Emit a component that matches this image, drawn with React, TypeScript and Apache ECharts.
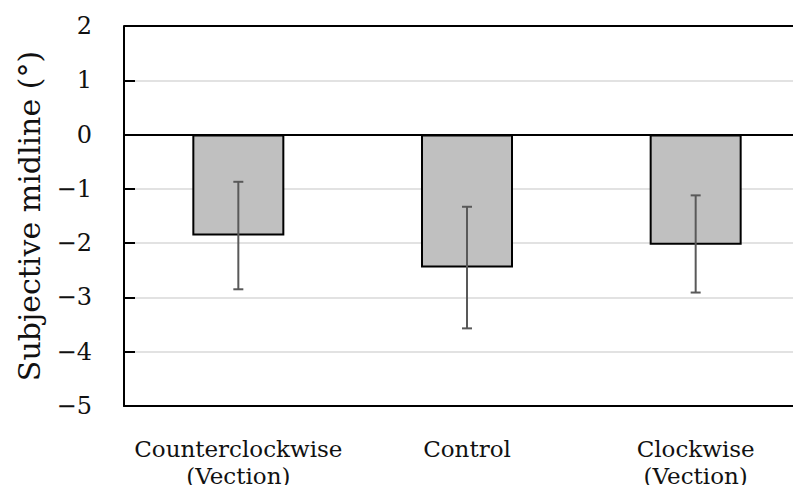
import React, { useEffect, useRef } from "react";
import * as echarts from "echarts";

const categories = ["Counterclockwise\n(Vection)", "Control", "Clockwise\n(Vection)"];
const means = [-1.86, -2.45, -2.03];
const errLow = [-2.85, -3.57, -2.91];
const errHigh = [-0.87, -1.33, -1.12];
const yTicks = [-5, -4, -3, -2, -1, 0, 1, 2];
const yTitle = "Subjective midline (°)";

const FONT = "'DejaVu Serif', 'Liberation Serif', serif";

export default function App() {
  const ref = useRef<HTMLDivElement>(null);
  useEffect(() => {
    if (!ref.current) return;
    const chart = echarts.init(ref.current, null, { renderer: "svg" });
    const errData = categories.map((_, i) => [i, errLow[i], errHigh[i]]);
    chart.setOption({
      animation: false,
      backgroundColor: "#ffffff",
      grid: {
        left: 124,
        top: 26,
        width: 686,
        height: 380,
      },
      xAxis: {
        type: "category",
        data: categories,
        axisLine: { show: true, onZero: false, lineStyle: { color: "#000", width: 2 } },
        axisTick: { show: false },
        axisLabel: {
          color: "#111",
          fontFamily: FONT,
          fontSize: 23,
          lineHeight: 27,
          margin: 29,
          interval: 0,
        },
        splitLine: { show: false },
      },
      yAxis: {
        type: "value",
        min: yTicks[0],
        max: yTicks[yTicks.length - 1],
        interval: 1,
        axisLine: { show: true, lineStyle: { color: "#000", width: 2 } },
        axisTick: { show: true, inside: true, length: 11, lineStyle: { color: "#000", width: 2 } },
        axisLabel: {
          color: "#111",
          fontFamily: FONT,
          fontSize: 24,
          margin: 32,
          formatter: (v: number) => (v < 0 ? "\u2212" + Math.abs(v) : String(v)),
        },
        splitLine: { show: true, lineStyle: { color: "#d9d9d9", width: 1.5 } },
      },
      graphic: [
        {
          type: "text",
          x: 29,
          y: 216,
          rotation: Math.PI / 2,
          style: {
            text: yTitle,
            fontFamily: FONT,
            fontSize: 30,
            fill: "#111",
            align: "center",
            verticalAlign: "middle",
          },
        },
      ],
      series: [
        {
          type: "bar",
          data: means,
          barWidth: 92,
          itemStyle: { color: "#c0c0c0", borderColor: "#000", borderWidth: 2 },
          markLine: {
            silent: true,
            symbol: "none",
            label: { show: false },
            lineStyle: { color: "#000", width: 2, type: "solid" },
            data: [{ yAxis: 0 }, { yAxis: yTicks[yTicks.length - 1] }],
          },
          z: 2,
        },
        {
          type: "custom",
          data: errData,
          z: 5,
          renderItem: (params: any, api: any) => {
            const x = api.value(0);
            const lo = api.coord([x, api.value(1)]);
            const hi = api.coord([x, api.value(2)]);
            const cap = 5;
            const style = { stroke: "#595959", lineWidth: 2 };
            return {
              type: "group",
              children: [
                { type: "line", shape: { x1: lo[0], y1: lo[1], x2: hi[0], y2: hi[1] }, style },
                { type: "line", shape: { x1: lo[0] - cap, y1: lo[1], x2: lo[0] + cap, y2: lo[1] }, style },
                { type: "line", shape: { x1: hi[0] - cap, y1: hi[1], x2: hi[0] + cap, y2: hi[1] }, style },
              ],
            };
          },
        },
      ],
    });
    return () => chart.dispose();
  }, []);
  return (
    <div style={{ width: 801, height: 493, margin: -8, overflow: "hidden" }}>
      <div ref={ref} style={{ width: 812, height: 493 }} />
    </div>
  );
}
